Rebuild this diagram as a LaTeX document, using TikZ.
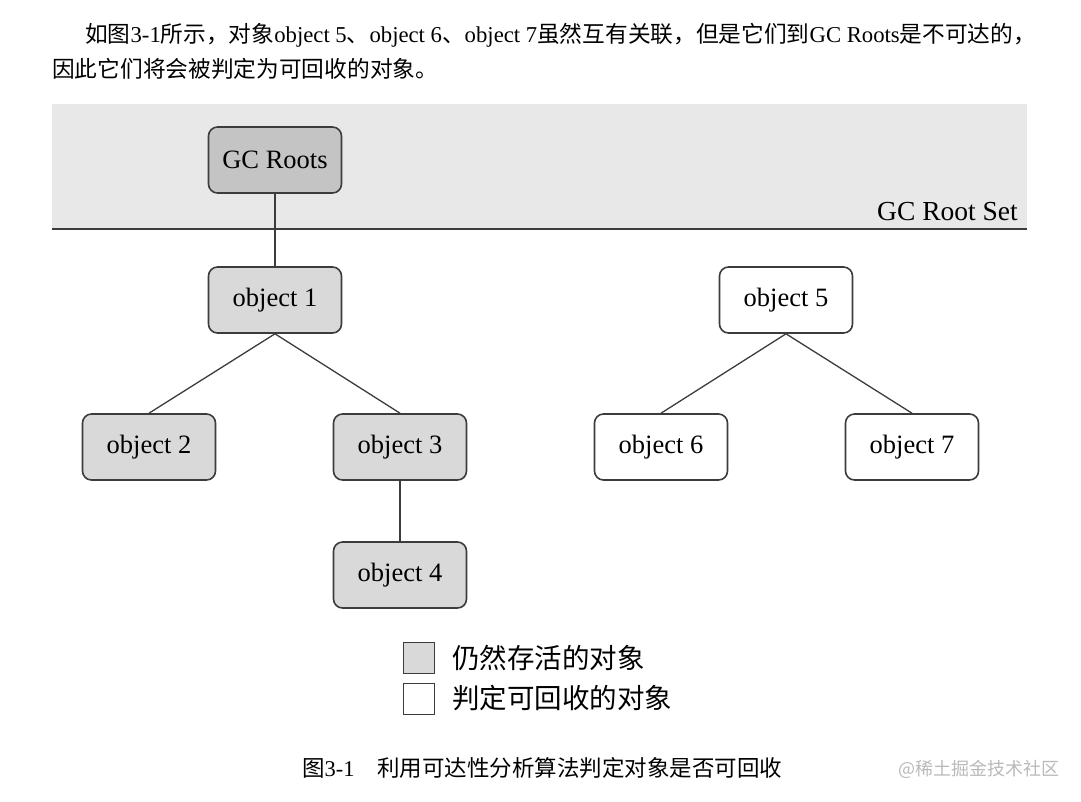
\documentclass[tikz,border=0pt]{standalone}
\usepackage{fontspec}
\setmainfont{Liberation Serif}
\newfontfamily\cjk{Noto Sans CJK SC}
\newfontfamily\marksans{Noto Sans CJK SC}
\usepackage{xcolor}
\definecolor{bandcolor}{RGB}{232, 232, 232}
\definecolor{rootcolor}{RGB}{196, 196, 196}
\definecolor{alivecolor}{RGB}{217, 217, 217}
\definecolor{edgecolor}{RGB}{60, 60, 60}
\definecolor{markcolor}{RGB}{185, 185, 185}

\begin{document}
\begin{tikzpicture}[
    x=1pt, y=-1pt,
    objbox/.style={draw=edgecolor, line width=1.6pt, rounded corners=9pt,
        minimum width=133pt, minimum height=66pt, inner sep=0pt,
        font=\fontsize{26.5}{30}\selectfont},
    alive/.style={objbox, fill=alivecolor},
    dead/.style={objbox, fill=white},
    link/.style={draw=edgecolor, line width=1.3pt},
    keybox/.style={draw=edgecolor, line width=1.4pt, minimum size=31pt, inner sep=0pt}
]
\useasboundingbox (0,0) rectangle (1081,801);

% intro text
\node[anchor=base west, inner sep=0pt, font=\fontsize{22.7}{26}\selectfont] (intro1) at (85,42)
    {{\cjk 如图}3-1{\cjk 所示，对象}object 5{\cjk 、}object 6{\cjk 、}object 7{\cjk 虽然互有关联，但是它们到}GC Roots{\cjk 是不可达的，}};
\node[anchor=base west, inner sep=0pt, font=\fontsize{22.7}{26}\selectfont] (intro2) at (52,77)
    {\cjk 因此它们将会被判定为可回收的对象。};

% root set band
\fill[bandcolor] (52,104) rectangle (1027,229);
\draw[edgecolor, line width=2.2pt] (52,229) -- (1027,229);
\node[anchor=base east, inner sep=0pt, font=\fontsize{27.5}{30}\selectfont] (setlabel) at (1018,220) {GC Root Set};

% objects
\node[objbox, fill=rootcolor] (roots) at (275,160) {GC Roots};
\node[alive] (obj1) at (275,300) {object 1};
\node[alive] (obj2) at (149,447) {object 2};
\node[alive] (obj3) at (400,447) {object 3};
\node[alive] (obj4) at (400,575) {object 4};
\node[dead] (obj5) at (786,300) {object 5};
\node[dead] (obj6) at (661,447) {object 6};
\node[dead] (obj7) at (912,447) {object 7};

% references
\draw[link] (roots.south) -- (obj1.north);
\draw[link] (obj1.south) -- (obj2.north);
\draw[link] (obj1.south) -- (obj3.north);
\draw[link] (obj3.south) -- (obj4.north);
\draw[link] (obj5.south) -- (obj6.north);
\draw[link] (obj5.south) -- (obj7.north);

% legend
\node[keybox, fill=alivecolor] (keyalive) at (419,658) {};
\node[keybox, fill=white] (keydead) at (419,699) {};
\node[anchor=west, inner sep=0pt, font=\fontsize{27.5}{30}\selectfont\cjk] (keyalivetext) at (452,658) {仍然存活的对象};
\node[anchor=west, inner sep=0pt, font=\fontsize{27.5}{30}\selectfont\cjk] (keydeadtext) at (452,698) {判定可回收的对象};

% caption
\node[anchor=base west, inner sep=0pt, font=\fontsize{22.5}{26}\selectfont] (caption) at (302,776)
    {{\cjk 图}3-1\quad{\cjk 利用可达性分析算法判定对象是否可回收}};
\node[anchor=base west, inner sep=0pt, text=markcolor, font=\fontsize{18}{20}\selectfont\marksans] (mark) at (898,775)
    {@稀土掘金技术社区};
\end{tikzpicture}
\end{document}
